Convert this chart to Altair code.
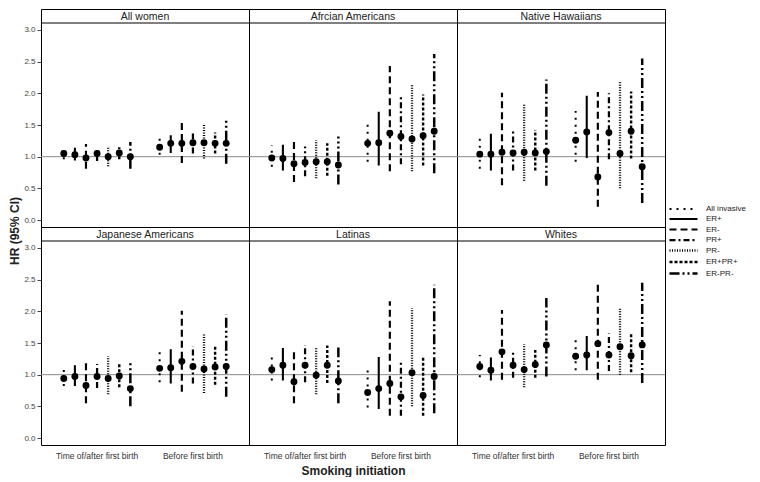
import altair as alt
import pandas as pd

races = ["All women", "Afrcian Americans", "Native Hawaiians",
         "Japanese Americans", "Latinas", "Whites"]
groups = ["Time of/after first birth", "Before first birth"]
subtypes = ["All invasive", "ER+", "ER-", "PR+", "PR-", "ER+PR+", "ER-PR-"]

# values: 7 subtypes for "Time of/after", then 7 for "Before"
hr_all = [1.05, 1.03, 0.98, 1.05, 1.00, 1.06, 1.00, 1.15, 1.21, 1.21, 1.22, 1.22, 1.21, 1.21]
lo_all = [0.96, 0.94, 0.81, 0.93, 0.85, 0.96, 0.81, 1.03, 1.06, 0.90, 1.05, 0.97, 1.05, 0.89]
hi_all = [1.13, 1.14, 1.20, 1.15, 1.16, 1.15, 1.23, 1.29, 1.34, 1.58, 1.38, 1.52, 1.38, 1.59]

hr_aa = [0.98, 0.97, 0.89, 0.91, 0.92, 0.92, 0.87, 1.21, 1.22, 1.37, 1.32, 1.28, 1.33, 1.40]
lo_aa = [0.84, 0.78, 0.60, 0.69, 0.66, 0.70, 0.56, 0.92, 0.86, 0.77, 0.88, 0.77, 0.86, 0.74]
hi_aa = [1.18, 1.19, 1.28, 1.16, 1.26, 1.21, 1.32, 1.58, 1.71, 2.43, 1.95, 2.13, 1.98, 2.62]

hr_nh = [1.04, 1.04, 1.07, 1.06, 1.07, 1.06, 1.08, 1.26, 1.39, 0.68, 1.38, 1.05, 1.40, 0.84]
lo_nh = [0.81, 0.78, 0.55, 0.78, 0.62, 0.78, 0.54, 0.92, 0.98, 0.21, 0.96, 0.50, 0.97, 0.27]
hi_nh = [1.33, 1.36, 2.01, 1.42, 1.82, 1.42, 2.22, 1.72, 1.96, 2.02, 2.00, 2.18, 2.03, 2.55]

hr_ja = [0.94, 0.97, 0.83, 0.97, 0.94, 0.98, 0.78, 1.10, 1.11, 1.21, 1.13, 1.09, 1.12, 1.13]
lo_ja = [0.82, 0.82, 0.55, 0.79, 0.69, 0.80, 0.50, 0.88, 0.86, 0.73, 0.86, 0.71, 0.84, 0.65]
hi_ja = [1.11, 1.15, 1.22, 1.17, 1.29, 1.18, 1.20, 1.36, 1.40, 2.01, 1.45, 1.65, 1.44, 1.95]

hr_la = [1.08, 1.15, 0.89, 1.15, 0.99, 1.15, 0.90, 0.72, 0.78, 0.86, 0.65, 1.03, 0.67, 0.97]
lo_la = [0.91, 0.91, 0.55, 0.88, 0.69, 0.87, 0.55, 0.48, 0.46, 0.35, 0.35, 0.50, 0.35, 0.39]
hi_la = [1.30, 1.42, 1.40, 1.47, 1.44, 1.46, 1.43, 1.11, 1.28, 2.16, 1.23, 2.05, 1.27, 2.42]

hr_wh = [1.13, 1.07, 1.36, 1.15, 1.08, 1.16, 1.47, 1.29, 1.31, 1.49, 1.31, 1.44, 1.30, 1.47]
lo_wh = [0.96, 0.91, 0.92, 0.95, 0.80, 0.95, 0.97, 1.07, 1.07, 0.92, 1.06, 1.00, 1.04, 0.87]
hi_wh = [1.31, 1.27, 2.02, 1.39, 1.48, 1.39, 2.21, 1.56, 1.61, 2.43, 1.65, 2.05, 1.65, 2.45]

series = {
    "All women": (hr_all, lo_all, hi_all),
    "Afrcian Americans": (hr_aa, lo_aa, hi_aa),
    "Native Hawaiians": (hr_nh, lo_nh, hi_nh),
    "Japanese Americans": (hr_ja, lo_ja, hi_ja),
    "Latinas": (hr_la, lo_la, hi_la),
    "Whites": (hr_wh, lo_wh, hi_wh),
}

rows = []
for race in races:
    hr, lo, hi = series[race]
    for gi, g in enumerate(groups):
        for si, s in enumerate(subtypes):
            k = gi * 7 + si
            rows.append({"race": race, "group": g, "subtype": s,
                         "hr": hr[k], "lo": lo[k], "hi": hi[k]})
df = pd.DataFrame(rows)

dashes = [[2, 5], [1, 0], [7, 4], [6, 3, 2, 3], [1, 1.5], [3, 2], [10, 3, 2, 3, 2, 3]]
widths = [2, 2.5, 3, 3, 1, 3, 3]

W = 208
HH = 14
PH = 204
FONT = "Arial"

xscale = alt.Scale(domain=groups, paddingInner=0.19, paddingOuter=0.18)
offscale = alt.Scale(domain=subtypes, paddingInner=0, paddingOuter=0)
yscale = alt.Scale(domain=[-0.11, 3.11], nice=False, zero=False, range=[HH + PH, HH])

legend = alt.Legend(title=None, orient="none", legendX=667, legendY=195, padding=0,
                    symbolType="M-3.5,0H3.5", symbolSize=64, symbolStrokeColor="black",
                    labelFontSize=8, labelFont=FONT, labelColor="#222",
                    labelOffset=17, rowPadding=0.5, symbolOffset=0)


def panel(race, col, row):
    d = df[df.race == race]
    bottom = row == 1
    if bottom:
        xaxis = alt.Axis(labelAngle=0, ticks=False, domain=False, labelFontSize=8.5,
                         labelColor="#333", labelPadding=6, labelFont=FONT,
                         titleFontSize=12, titleFont=FONT, titleFontWeight="bold",
                         titlePadding=6, titleColor="#222")
        xt = "Smoking initiation" if col == 1 else None
        xenc = alt.X("group:N", scale=xscale, sort=groups, axis=xaxis, title=xt)
    else:
        xenc = alt.X("group:N", scale=xscale, sort=groups, axis=None)
    if col == 0:
        yaxis = alt.Axis(values=[0, 0.5, 1, 1.5, 2, 2.5, 3], format=".1f", tickSize=4,
                         labelFontSize=8, labelColor="#444", labelFont=FONT,
                         domain=False, grid=False, tickColor="#444", title=None)
    else:
        yaxis = None
    label = pd.DataFrame({"race": [race]})
    ref = alt.Chart(pd.DataFrame({"ref": [1.0]})).mark_rule(
        color="#8a8a8a", strokeWidth=1).encode(
        y=alt.Y("ref:Q", scale=yscale, axis=yaxis))
    ci = alt.Chart(d).mark_rule(color="black", strokeCap="butt").encode(
        x=xenc,
        xOffset=alt.XOffset("subtype:N", scale=offscale, sort=subtypes),
        y=alt.Y("lo:Q", scale=yscale, axis=yaxis),
        y2="hi:Q",
        strokeDash=alt.StrokeDash("subtype:N", scale=alt.Scale(domain=subtypes, range=dashes),
                                  legend=legend),
        strokeWidth=alt.StrokeWidth("subtype:N", scale=alt.Scale(domain=subtypes, range=widths),
                                    legend=legend),
    )
    pts = alt.Chart(d).mark_point(filled=True, color="black", size=48, opacity=1).encode(
        x=xenc,
        xOffset=alt.XOffset("subtype:N", scale=offscale, sort=subtypes),
        y=alt.Y("hr:Q", scale=yscale, axis=yaxis),
    )
    sep = alt.Chart(label).mark_rule(color="black", strokeWidth=1).encode(
        x=alt.value(0), x2=alt.value(W), y=alt.value(HH))
    header = alt.Chart(label).mark_text(
        fontSize=10.5, font=FONT, color="#222", baseline="middle").encode(
        text="race:N", x=alt.value(W / 2), y=alt.value(HH / 2 + 0.5))
    return alt.layer(ref, ci, pts, sep, header).properties(width=W, height=HH + PH)


panels = [panel(r, i % 3, i // 3) for i, r in enumerate(races)]
grid = alt.concat(*panels, columns=3, spacing=0, bounds="flush")

ytitle = alt.Chart(pd.DataFrame({"t": ["HR (95% CI)"]})).mark_text(
    angle=270, fontSize=12, fontWeight="bold", font=FONT, color="#222",
    baseline="middle").encode(
    text="t:N", x=alt.value(4), y=alt.value(222)
).properties(width=11, height=2 * (HH + PH), view=alt.ViewBackground(stroke="transparent"))

chart = alt.hconcat(ytitle, grid, spacing=0).properties(
    padding={"left": 0, "top": 0, "right": 0, "bottom": 0}
).configure_view(stroke="black", strokeWidth=1).resolve_scale(
    strokeDash="shared", strokeWidth="shared")

chart.save("out.html", embed_options={"renderer": "svg", "actions": False})
